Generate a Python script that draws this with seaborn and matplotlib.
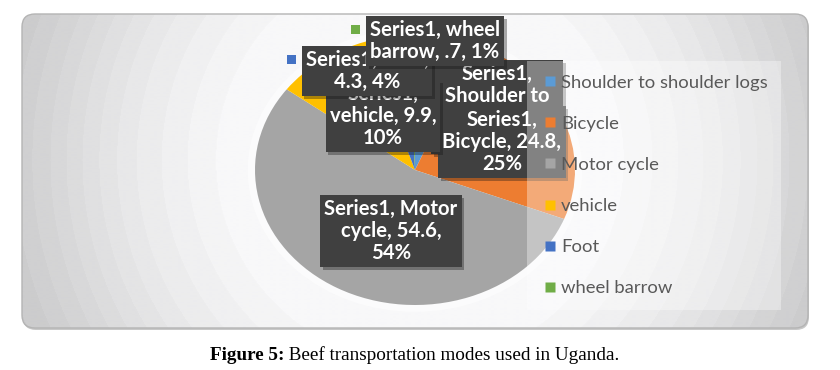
import textwrap

import numpy as np
import matplotlib
matplotlib.use("Agg")
import matplotlib.pyplot as plt
import seaborn as sns
from matplotlib.patches import FancyBboxPatch, Ellipse, Rectangle
from matplotlib.lines import Line2D
from matplotlib import patheffects as pe

# ---- data -------------------------------------------------------------
categories = ["Shoulder to shoulder logs", "Bicycle", "Motor cycle",
              "vehicle", "Foot", "wheel barrow"]
values = [6.3, 24.8, 54.6, 9.9, 4.3, 0.7]
series_name = "Series1"
caption_bold = "Figure 5:"
caption_text = "Beef transportation modes used in Uganda."

# ---- style ------------------------------------------------------------
sns.set_theme(style="white")
plt.rcParams["font.family"] = ["Lato", "DejaVu Sans"]
palette = sns.color_palette(["#5B9BD5", "#ED7D31", "#A5A5A5",
                             "#FFC000", "#4472C4", "#70AD47"])

W, H = 840, 370
fig = plt.figure(figsize=(W / 100, H / 100), dpi=100)
fig.patch.set_facecolor("white")


def fx(x):
    return x / W


def fy(y):
    return 1 - y / H


# ---- chart area: rounded panel with a radial grey gradient ------------
ax_bg = fig.add_axes([0, 0, 1, 1], zorder=-10)
ax_bg.set_xlim(0, W)
ax_bg.set_ylim(H, 0)
ax_bg.axis("off")

x0, y0, x1, y1 = 22, 14, 808, 328
xs = np.arange(x0, x1 + 1)
ys = np.arange(y0, y1 + 1)
gx, gy = np.meshgrid(xs, ys)
r = np.hypot(gx - 420, gy - 160)
shade = np.interp(r, [0, 190, 240, 290, 330, 370, 420, 470],
                  [252, 248, 241, 233, 224, 214, 203, 196])
shade = np.round(shade / 4) * 4
img = np.dstack([shade, shade, shade + 1]) / 255.0
img = np.clip(img, 0, 1)

panel = FancyBboxPatch((x0, y0), x1 - x0, y1 - y0,
                       boxstyle="round,pad=0,rounding_size=13",
                       fc="none", ec="#b4b4b4", lw=1.0,
                       transform=ax_bg.transData, zorder=2)
shadow = FancyBboxPatch((x0 + 1, y0 + 2), x1 - x0, y1 - y0,
                        boxstyle="round,pad=0,rounding_size=13",
                        fc="#c8c8c8", ec="none",
                        transform=ax_bg.transData, zorder=0)
ax_bg.add_patch(shadow)
im = ax_bg.imshow(img, extent=(x0, x1, y1, y0), zorder=1,
                  interpolation="bilinear", aspect="auto")
clip = FancyBboxPatch((x0, y0), x1 - x0, y1 - y0,
                      boxstyle="round,pad=0,rounding_size=13",
                      fc="none", ec="none", transform=ax_bg.transData)
im.set_clip_path(clip)
ax_bg.add_patch(panel)

# ---- pie ---------------------------------------------------------------
cx, cy, rx, ry = 415, 170, 160, 135
ax_pie = fig.add_axes([fx(cx - rx), fy(cy + ry), 2 * rx / W, 2 * ry / H])
ax_pie.add_patch(Ellipse((0, 0), 2.09, 2.1, fc="white", ec="none",
                         alpha=0.55, clip_on=False, zorder=0))
wedges, _ = ax_pie.pie(values, colors=palette, startangle=90,
                       counterclock=False,
                       wedgeprops=dict(linewidth=0))
ax_pie.set_aspect("auto")
ax_pie.set_xlim(-1, 1)
ax_pie.set_ylim(-1, 1)
ax_pie.axis("off")

# ---- data labels -------------------------------------------------------
total = sum(values)


def fmt_value(v):
    s = f"{v:g}"
    return s[1:] if s.startswith("0.") else s


label_centers = [(497, 107), (502, 142), (391, 231),
                 (383, 116), (367, 71), (435, 41)]

label_texts = []
for i, (cat, v) in enumerate(zip(categories, values)):
    pct = round(v / total * 100)
    txt = textwrap.fill(f"{series_name}, {cat}, {fmt_value(v)}, {pct}%",
                        width=14)
    lx, ly = label_centers[i]
    t = fig.text(fx(lx), fy(ly), txt, ha="center", va="center",
                 multialignment="center", color="white",
                 fontsize=14.6, fontweight="bold", linespacing=1.12,
                 zorder=10 + i,
                 bbox=dict(boxstyle="square,pad=0.2", fc="#404040",
                           ec="none"))
    t.get_bbox_patch().set_path_effects(
        [pe.SimplePatchShadow(offset=(2, -2), alpha=0.35), pe.Normal()])
    label_texts.append(t)

# legend keys beside each data label
fig.canvas.draw()
renderer = fig.canvas.get_renderer()
for i, t in enumerate(label_texts):
    bb = t.get_bbox_patch().get_window_extent(renderer)
    kx = bb.x0 - 10
    ky = bb.y1 - 14
    s = 9
    fig.add_artist(Rectangle((fx(kx - s / 2), (ky - s / 2) / H),
                             s / W, s / H, transform=fig.transFigure,
                             fc=palette[i], ec="none", zorder=10 + i))

# ---- legend ------------------------------------------------------------
handles = [Line2D([], [], ls="none", marker="s", markersize=7.4,
                  markerfacecolor=c, markeredgecolor="none")
           for c in palette]
leg = fig.legend(handles, categories, loc="upper left",
                 bbox_to_anchor=(fx(527), fy(61)), borderaxespad=0,
                 frameon=True, fancybox=False, facecolor="white",
                 framealpha=0.35, edgecolor="none", fontsize=13.3,
                 handlelength=1.0, handletextpad=0.1,
                 labelspacing=1.36, borderpad=0.74)
leg.get_frame().set_linewidth(0)
for txt in leg.get_texts():
    txt.set_color("#595959")
leg.set_zorder(30)

# ---- caption -----------------------------------------------------------
cap1 = fig.text(fx(210), fy(364), caption_bold, family="Liberation Serif",
                fontweight="bold", fontsize=13.8, color="black",
                ha="left", va="bottom")
ax_bg.annotate(" " + caption_text, xy=(1, 0), xycoords=cap1,
               family="Liberation Serif", fontsize=13.8, color="black",
               ha="left", va="bottom", annotation_clip=False)

fig.savefig("out.png", dpi=100)
